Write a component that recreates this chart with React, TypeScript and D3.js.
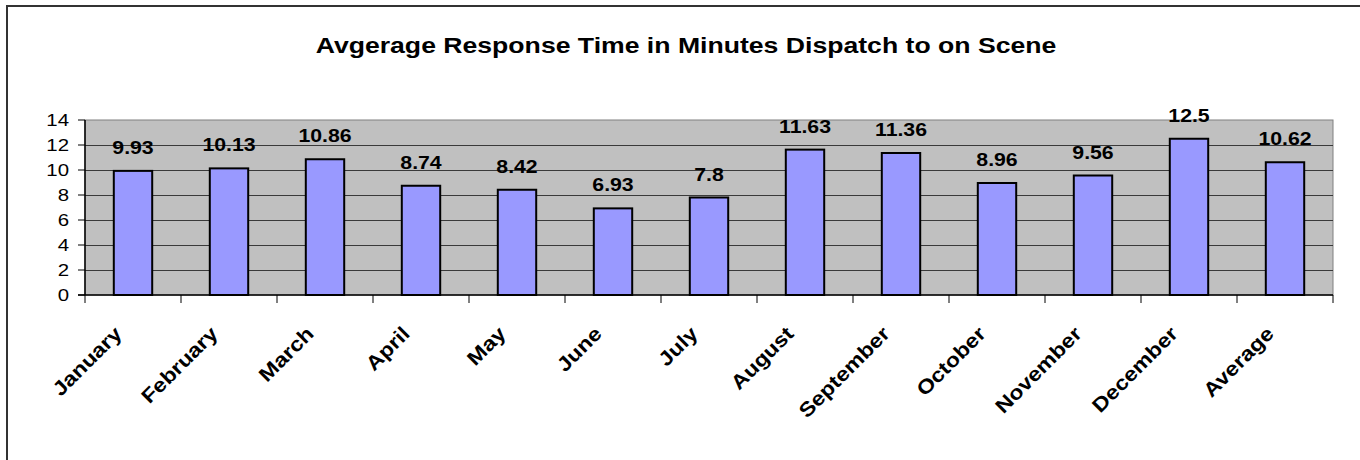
import React from "react";
import * as d3 from "d3";

const categories = ["January","February","March","April","May","June","July","August","September","October","November","December","Average"];
const values = [9.93,10.13,10.86,8.74,8.42,6.93,7.8,11.63,11.36,8.96,9.56,12.5,10.62];
const valueLabels = ["9.93","10.13","10.86","8.74","8.42","6.93","7.8","11.63","11.36","8.96","9.56","12.5","10.62"];
const yTicks = [0,2,4,6,8,10,12,14];
const title = "Avgerage Response Time in Minutes Dispatch to on Scene";

const W = 1360, H = 460;
const plot = { left: 85, right: 1333, top: 120, bottom: 295 };
const FONT = "'Liberation Sans', Arial, Helvetica, sans-serif";

export default function App() {
  const x = d3.scaleBand<string>().domain(categories).range([plot.left, plot.right]).paddingInner(0).paddingOuter(0);
  const y = d3.scaleLinear().domain([0, 14]).range([plot.bottom, plot.top]);
  const bw = x.bandwidth() * 0.4;
  const bounds = categories.map((c) => x(c)!).concat([plot.right]);

  return (
    <svg width={W} height={H} style={{ position: "absolute", left: 0, top: 0, background: "#fff" }} fontFamily={FONT}>
      <path d={`M7,${H} L7,6 L${W},6`} fill="none" stroke="#333" strokeWidth={2} />
      <g transform={`translate(686,53) scale(1.21,1)`}>
        <text textAnchor="middle" fontSize={22} fontWeight="bold" fill="#000">{title}</text>
      </g>
      <rect x={plot.left} y={plot.top} width={plot.right - plot.left} height={plot.bottom - plot.top} fill="#c0c0c0" stroke="#808080" strokeWidth={1} />
      {yTicks.filter((t) => t > 0 && t < 14).map((t) => (
        <line key={t} x1={plot.left} x2={plot.right} y1={Math.round(y(t)) + 0.5} y2={Math.round(y(t)) + 0.5} stroke="#3a3a3a" strokeWidth={1} />
      ))}
      {categories.map((c, i) => {
        const cx = x(c)! + x.bandwidth() / 2;
        return (
          <g key={c}>
            <rect x={cx - bw / 2} y={y(values[i])} width={bw} height={plot.bottom - y(values[i])} fill="#9999ff" stroke="#000" strokeWidth={2} />
            <g transform={`translate(${cx},${y(values[i]) - 17}) scale(1.12,1)`}>
              <text textAnchor="middle" fontSize={19} fontWeight="bold" fill="#000">{valueLabels[i]}</text>
            </g>
            <g transform={`translate(${cx - 10},${335}) rotate(-45) scale(1.15,1)`}>
              <text textAnchor="end" fontSize={20} fontWeight="bold" fill="#000">{c}</text>
            </g>
          </g>
        );
      })}
      <line x1={plot.left} x2={plot.left} y1={plot.top} y2={plot.bottom} stroke="#000" strokeWidth={1.5} />
      <line x1={plot.left - 7} x2={plot.right} y1={plot.bottom} y2={plot.bottom} stroke="#000" strokeWidth={1.5} />
      {yTicks.map((t) => (
        <g key={t}>
          <line x1={plot.left - 7} x2={plot.left} y1={y(t)} y2={y(t)} stroke="#000" strokeWidth={1} />
          <g transform={`translate(${plot.left - 16},${y(t) + 6}) scale(1.2,1)`}>
            <text textAnchor="end" fontSize={17} fill="#000">{t}</text>
          </g>
        </g>
      ))}
      {bounds.map((b, i) => (
        <line key={i} x1={b} x2={b} y1={plot.bottom} y2={plot.bottom + 8} stroke="#000" strokeWidth={1} />
      ))}
    </svg>
  );
}
